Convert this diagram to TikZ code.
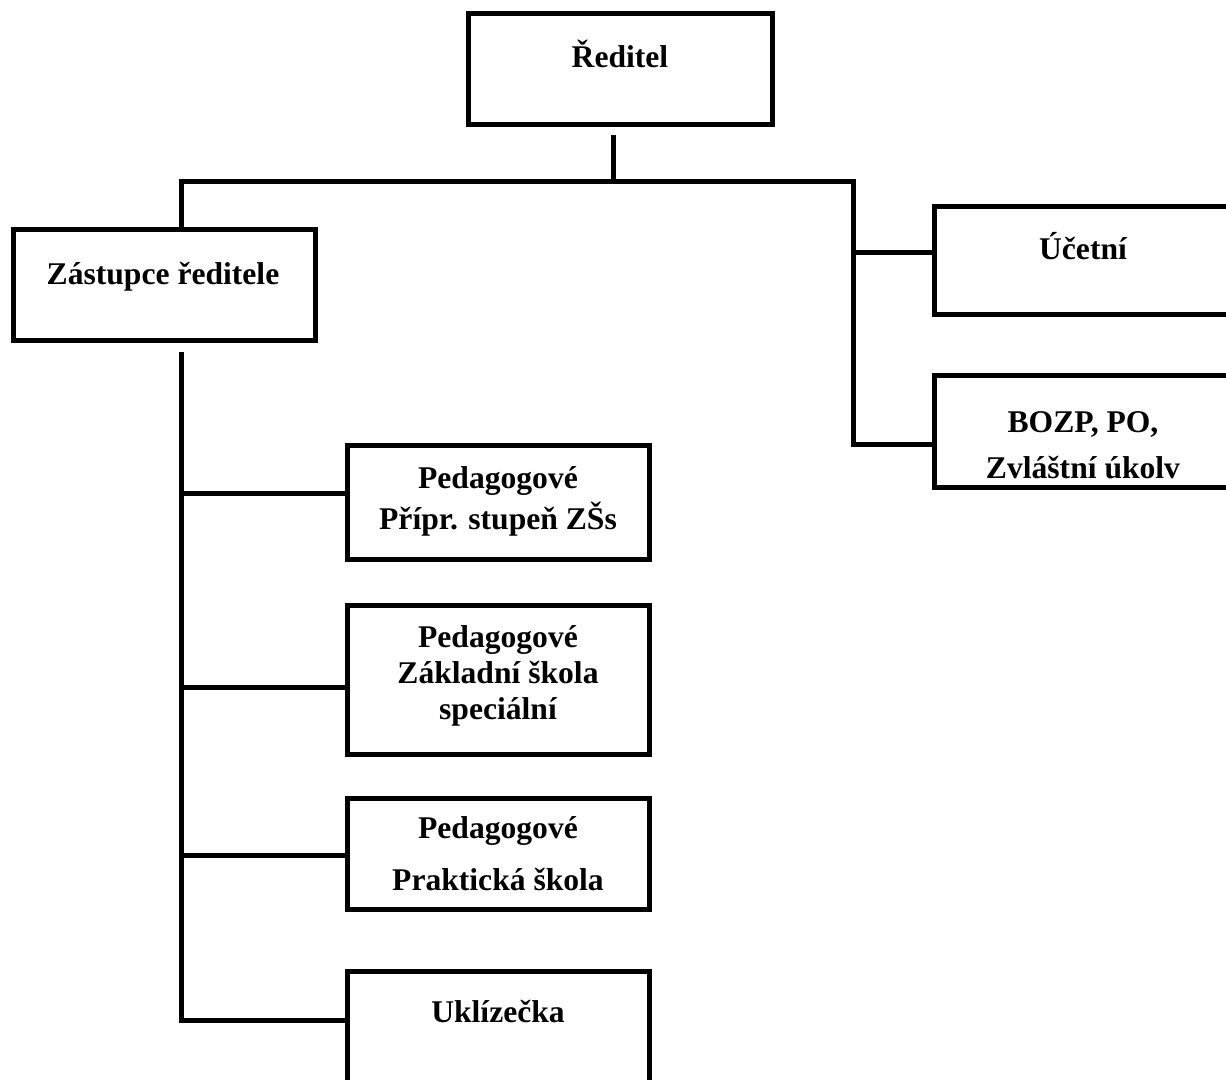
\documentclass[tikz,border=0pt]{standalone}
\usepackage{fontspec}
\setmainfont{Liberation Serif}
\usetikzlibrary{calc}
\begin{document}
\begin{tikzpicture}[x=0.5pt,y=-0.5pt,
  box/.style={draw, line width=2.5pt, rectangle, inner sep=0pt, minimum width=151pt},
  conn/.style={line width=2.5pt, line join=miter},
  lbl/.style={anchor=base, inner sep=0pt, font=\fontsize{15.8pt}{19pt}\selectfont\bfseries}]
\useasboundingbox (0,0) rectangle (1226,1080);
\clip (0,0) rectangle (1226,1080);
% boxes
\node[box, minimum width=152pt, minimum height=55.5pt] (red) at (620,69.5) {};
\node[box, minimum height=55.5pt] (zas) at (164,285.5) {};
\node[box, minimum width=149pt, minimum height=54pt] (uce) at (1083,261) {};
\node[box, minimum width=149pt, minimum height=55.5pt] (boz) at (1083,431.5) {};
\node[box, minimum height=56.5pt] (p1) at (498,502.5) {};
\node[box, minimum height=74.5pt] (p2) at (498,679.5) {};
\node[box, minimum height=55.5pt] (p3) at (498,853.5) {};
\node[box, minimum height=60pt] (ukl) at (498,1031) {};
% labels
\node[lbl] (tred) at (620,68) {Ředitel};
\node[lbl] (tzas) at (163,285) {Zástupce ředitele};
\node[lbl] (tuce) at (1083,260) {Účetní};
\node[lbl] (tboz1) at (1083,433) {BOZP, PO,};
\node[lbl] (tboz2) at (1083,479) {Zvláštní úkolv};
\node[lbl] (tp1a) at (498,488) {Pedagogové};
\node[lbl] (tp1b) at (498,530) {Přípr. stupeň ZŠs};
\node[lbl] (tp2a) at (498,647) {Pedagogové};
\node[lbl] (tp2b) at (498,683) {Základní škola};
\node[lbl] (tp2c) at (498,719) {speciální};
\node[lbl] (tp3a) at (498,838) {Pedagogové};
\node[lbl] (tp3b) at (498,890) {Praktická škola};
\node[lbl] (tukl) at (498,1022) {Uklízečka};
% junctions
\coordinate (busL) at (181,182);
\coordinate (busM) at (613,182);
\coordinate (busR) at (853,182);
\coordinate (ju) at (853,253);
\coordinate (jb) at (853,445);
\coordinate (zl) at (181,352);
\coordinate (j1) at (181,493);
\coordinate (j2) at (181,687);
\coordinate (j3) at (181,855);
\coordinate (j4) at (181,1020);
% connectors
\draw[conn] ($(red.south -| busM)+(0,8)$) -- (busM);
\draw[conn] (zas.north -| busL) |- (busR) |- (jb -| boz.west);
\draw[conn] (ju) -- (ju -| uce.west);
\draw[conn] (zl) |- (j4 -| ukl.west);
\draw[conn] (j1) -- (j1 -| p1.west);
\draw[conn] (j2) -- (j2 -| p2.west);
\draw[conn] (j3) -- (j3 -| p3.west);
\end{tikzpicture}
\end{document}
